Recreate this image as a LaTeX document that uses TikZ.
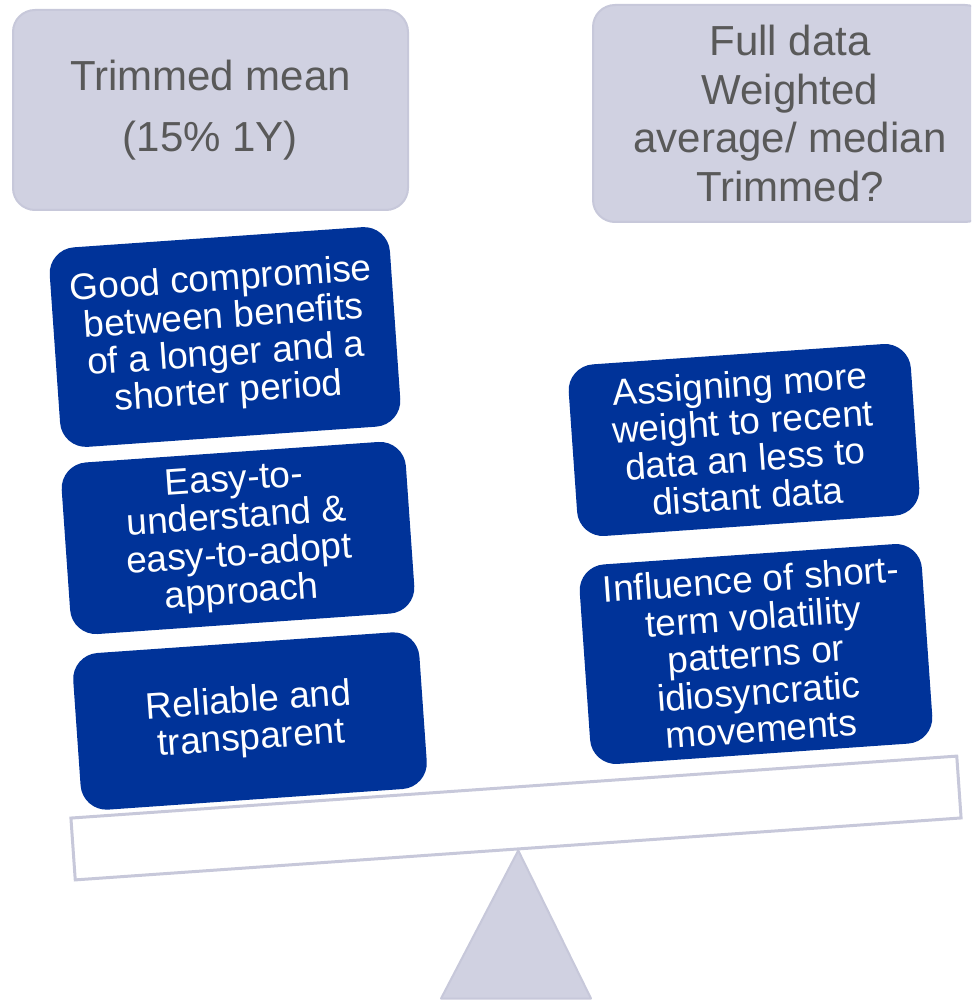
\documentclass[tikz,border=0pt]{standalone}
\usepackage{fontspec}
\setmainfont{Liberation Sans}
\usetikzlibrary{backgrounds}
\definecolor{panelgray}{RGB}{208,209,225}
\definecolor{panelline}{RGB}{199,200,218}
\definecolor{labelgray}{RGB}{89,89,89}
\definecolor{deepblue}{RGB}{0,51,153}
\begin{document}
\begin{tikzpicture}[x=1pt,y=-1pt,
  headbox/.style={draw=panelline, line width=2pt, fill=panelgray,
    rounded corners=22pt, text=labelgray, align=center, inner sep=0pt},
  argbox/.style={fill=deepblue, rounded corners=26pt, text=white,
    align=center, inner sep=0pt, rotate=4,
    font=\fontsize{37}{37.5}\selectfont},
  beambox/.style={draw=panelline, line width=3pt, fill=white,
    rotate=4, inner sep=0pt},
  pivot/.style={draw=panelline, line width=2pt, fill=panelgray,
    line join=round}]
\useasboundingbox (0,0) rectangle (971,1000);
\clip (0,0) rectangle (971,1000);

% the two options being weighed
\node[headbox, minimum width=395pt, minimum height=200pt,
  font=\fontsize{42}{61}\selectfont] (optA) at (210.5,110)
  {Trimmed mean\\(15\% 1Y)};
\node[headbox, minimum width=394pt, minimum height=217pt,
  font=\fontsize{42}{48.5}\selectfont] (optB) at (790,113.5)
  {Full data\\Weighted\\average/ median\\Trimmed?};

% arguments stacked on the left pan
\node[argbox, minimum width=341pt, minimum height=200pt] (a1) at (225,337)
  {Good compromise\\between benefits\\of a longer and a\\shorter period};
\node[argbox, minimum width=345pt, minimum height=172pt] (a2) at (238,538)
  {Easy-to-\\understand \&\\easy-to-adopt\\approach};
\node[argbox, minimum width=347pt, minimum height=157pt] (a3) at (250,721)
  {Reliable and\\transparent};

% arguments stacked on the right pan
\node[argbox, minimum width=343pt, minimum height=172pt] (b1) at (744,440)
  {Assigning more\\weight to recent\\data an less to\\distant data};
\node[argbox, minimum width=343pt, minimum height=200pt] (b2) at (756,654)
  {Influence of short-\\term volatility\\patterns or\\idiosyncratic\\movements};

% the tilted beam resting on its pivot
\node[beambox, minimum width=888pt, minimum height=62pt] (beam) at (516,818) {};
\begin{scope}[on background layer]
  \coordinate (baseL) at (441,998.5);
  \coordinate (baseR) at (591,998.5);
  \path[pivot] (beam.south) -- (baseL) -- (baseR) -- cycle;
\end{scope}
\end{tikzpicture}
\end{document}
